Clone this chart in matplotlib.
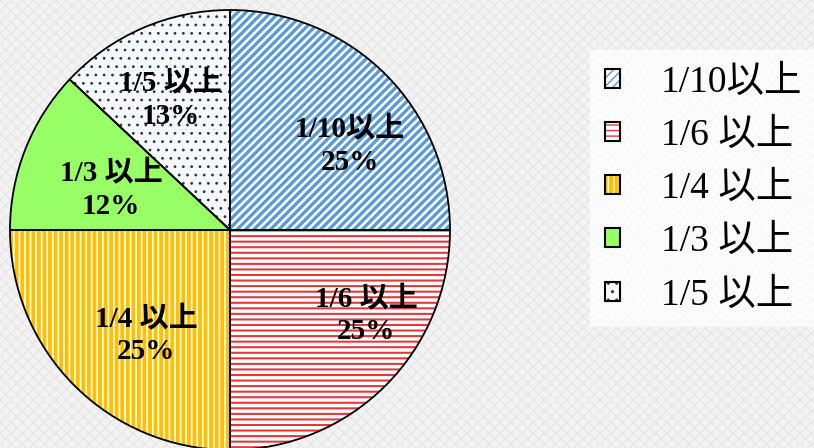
import matplotlib.pyplot as plt
from matplotlib.patches import Rectangle, Patch
from matplotlib.legend_handler import HandlerTuple

plt.rcParams['font.family'] = ['Liberation Serif', 'Noto Sans CJK JP', 'DejaVu Serif']

# data
categories = ['1/10以上', '1/6 以上', '1/4 以上', '1/3 以上', '1/5 以上']
shares = [25, 25, 25, 12, 13]
pie_labels = ['1/10以上\n25%', '1/6 以上\n25%', '1/4 以上\n25%', '1/3 以上\n12%', '1/5 以上\n13%']

# styling per slice
face_colors = ['white', 'white', '#FFC000', '#99FF66', '#F6F8FC']
hatch_colors = ['#5B9BD5', '#E03A3E', 'white', '#99FF66', '#2A3558']
hatches = ['////', '---', '|||', None, '..']
hatch_lws = [2.4, 1.5, 1.2, 1.0, 0.8]
label_xy = [(0.545, 0.38), (0.62, -0.39), (-0.38, -0.48), (-0.54, 0.18), (-0.27, 0.59)]

W, H = 814, 448
fig = plt.figure(figsize=(W / 100, H / 100), dpi=100)
fig.patch.set_facecolor('#F3F3F3')

# light textured background
bg = Rectangle((0, 0), 1, 1, transform=fig.transFigure, facecolor='#F3F3F3',
               edgecolor='#E6E6E6', hatch='xxx', linewidth=0, zorder=-10)
if hasattr(bg, 'set_hatch_linewidth'):
    bg.set_hatch_linewidth(0.8)
fig.add_artist(bg)

cx, cy, r = 230, 230, 220
ax = fig.add_axes([(cx - r) / W, (H - cy - r) / H, 2 * r / W, 2 * r / H])

wedges, _ = ax.pie(shares, startangle=90, counterclock=False, radius=1,
                   wedgeprops=dict(linewidth=0))
for w, fc, hc, h, hl in zip(wedges, face_colors, hatch_colors, hatches, hatch_lws):
    w.set_facecolor(fc)
    w.set_edgecolor(hc)
    w.set_linewidth(0)
    if h:
        w.set_hatch(h)
        if hasattr(w, 'set_hatch_linewidth'):
            w.set_hatch_linewidth(hl)

# black outlines on top
outlines, _ = ax.pie(shares, startangle=90, counterclock=False, radius=1,
                     wedgeprops=dict(fill=False, edgecolor='black', linewidth=1.3))

for txt, (x, y) in zip(pie_labels, label_xy):
    ax.text(x, y, txt, ha='center', va='center', fontsize=21, fontweight='bold',
            linespacing=1.25)

ax.set_xlim(-1, 1)
ax.set_ylim(-1, 1)
ax.axis('off')

# legend swatches: hatch patch + black outline overlaid
handles = []
for fc, hc, h, hl in zip(face_colors, hatch_colors, hatches, hatch_lws):
    p = Patch(facecolor=fc, edgecolor=hc, hatch=h, linewidth=0)
    if h and hasattr(p, 'set_hatch_linewidth'):
        p.set_hatch_linewidth(hl)
    o = Patch(facecolor='none', edgecolor='black', linewidth=1.5)
    handles.append((p, o))

leg = fig.legend(handles, categories, loc='upper left',
                 bbox_to_anchor=(590 / W, 1 - 50 / H),
                 handler_map={tuple: HandlerTuple(ndivide=1, pad=0)},
                 fontsize=27, frameon=True, handlelength=0.4, handleheight=0.4,
                 handletextpad=1.1, labelspacing=0.5, borderpad=0.4,
                 borderaxespad=0)
frame = leg.get_frame()
frame.set_facecolor('white')
frame.set_alpha(0.75)
frame.set_edgecolor('none')
frame.set_boxstyle('square', pad=0)

fig.savefig('out.png', dpi=100, facecolor=fig.get_facecolor())
